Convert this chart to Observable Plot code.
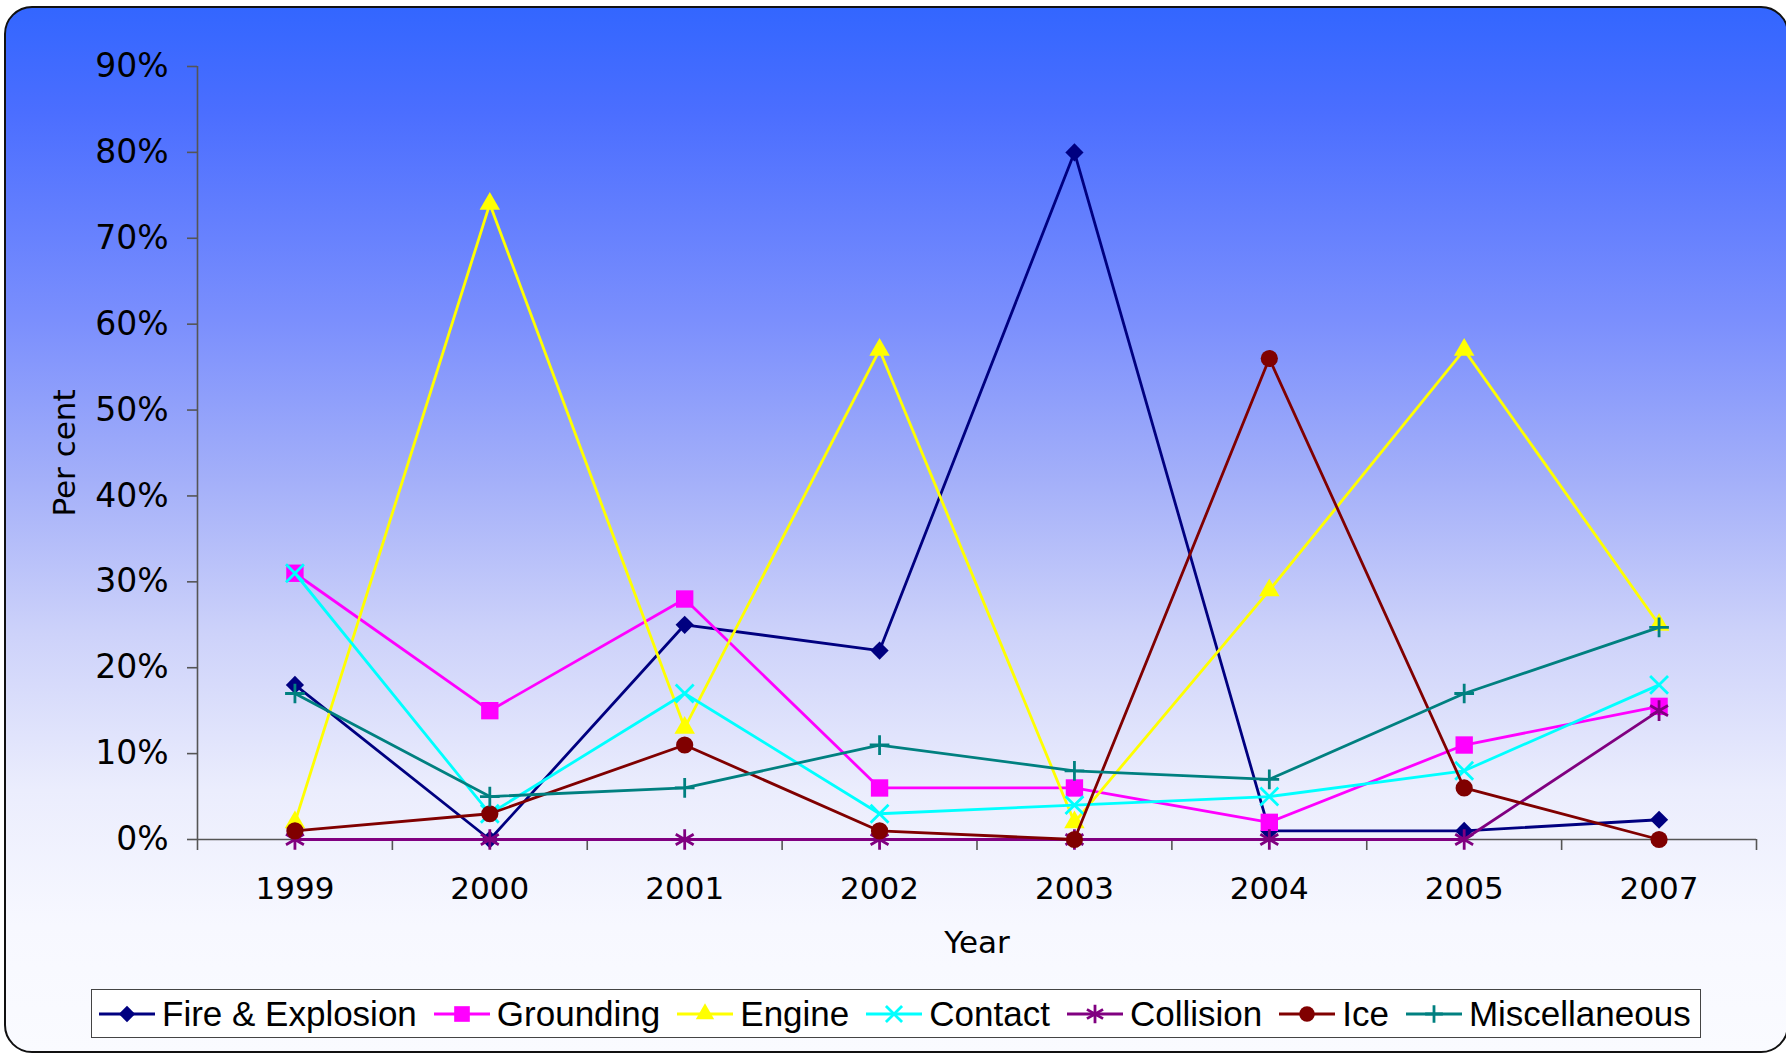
<!DOCTYPE html>
<html><head><meta charset="utf-8">
<script src="https://cdn.jsdelivr.net/npm/d3@7"></script>
<script src="https://cdn.jsdelivr.net/npm/@observablehq/plot@0.6"></script>
<style>
html,body{margin:0;padding:0;width:1786px;height:1056px;overflow:hidden;background:#fff;}
#panel{position:absolute;left:4px;top:6px;width:1785px;height:1047px;box-sizing:border-box;border:2px solid #111;border-radius:28px;
 background:linear-gradient(to bottom,#3366FF 0%,#4B6EFF 10%,#7B8FFD 30%,#A3AFF9 45%,#CDD2FA 60%,#EBEDFD 75%,#F7F8FF 88%,#FAFBFF 100%);}
#chart{position:absolute;left:0;top:0;}
#legend{position:absolute;left:91px;top:989px;width:1610px;height:49px;box-sizing:border-box;border:1.5px solid #444;background:#fff;
 display:flex;align-items:center;padding-left:7px;font-family:"Liberation Sans",Arial,sans-serif;font-size:35px;color:#000;white-space:nowrap;}
.item{display:flex;align-items:center;margin-right:17px;}
.item svg{margin-right:7px;}
</style></head><body>
<div id="panel"></div>
<div id="chart"></div>
<div id="legend"></div>
<script>
const years = ["1999","2000","2001","2002","2003","2004","2005","2007"];
const seriesNames = ["Fire & Explosion","Grounding","Engine","Contact","Collision","Ice","Miscellaneous"];
const fireExplosion = [18, 0, 25, 22, 80, 1, 1, 2.3];
const grounding     = [31, 15, 28, 6, 6, 2, 11, 15.5];
const engine        = [2, 74, 13, 57, 2, 29, 57, 25];
const contact       = [31, 3, 17, 3, 4, 5, 8, 18];
const collision     = [0, 0, 0, 0, 0, 0, 0, 15];
const ice           = [1, 3, 11, 1, 0, 56, 6, 0];
const miscellaneous = [17, 5, 6, 11, 8, 7, 17, 24.7];
const yTicks = [0,10,20,30,40,50,60,70,80,90];

const seriesValues = [fireExplosion, grounding, engine, contact, collision, ice, miscellaneous];
const colors = ["#000080","#FF00FF","#FFFF00","#00FFFF","#800080","#800000","#008080"];
const symbols = ["diamond2","square","triangle","times","asterisk","circle","plus"];
const filled = [true,true,true,false,false,true,false];
const radii = [8.2, 9.8, 7.6, 8.2, 9.8, 8.6, 6.4];

const marks = [];
marks.push(Plot.ruleY([0], {stroke:"#555", strokeWidth:1.6}));
marks.push(Plot.ruleX([-0.5], {y1:0, y2:90, stroke:"#555", strokeWidth:1.6}));
marks.push(Plot.axisY({ticks: yTicks, tickFormat: d => d + "%", tickSize: 10, tickPadding: 19, stroke:"#555", strokeWidth:1.6, fill:"#000", fontSize: 33, label:null}));
marks.push(Plot.axisX({ticks: d3.range(years.length + 1).map(i => i - 0.5), tickFormat: () => "", tickSize: 11, stroke:"#555", strokeWidth:1.6, label:null}));
marks.push(Plot.axisX({ticks: d3.range(years.length), tickFormat: i => years[i], tickSize: 0, tickPadding: 37, fill:"#000", label:null}));
marks.push(Plot.text(["Per cent"], {frameAnchor:"left", dx:-132, rotate:-90, textAnchor:"middle", lineAnchor:"middle", fill:"#000"}));
marks.push(Plot.text(["Year"], {frameAnchor:"bottom", dy:104, textAnchor:"middle", lineAnchor:"middle", fill:"#000"}));

seriesNames.forEach((name, s) => {
  const data = seriesValues[s].map((v, i) => ({i, v}));
  marks.push(Plot.line(data, {x:"i", y:"v", stroke: colors[s], strokeWidth: 2.8}));
  if (filled[s]) {
    marks.push(Plot.dot(data, {x:"i", y:"v", symbol: symbols[s], r: radii[s], fill: colors[s], stroke: "none"}));
  } else {
    marks.push(Plot.dot(data, {x:"i", y:"v", symbol: symbols[s], r: radii[s], fill: "none", stroke: colors[s], strokeWidth: 2.8}));
  }
});

const chart = Plot.plot({
  width: 1786, height: 970,
  marginLeft: 197, marginRight: 30, marginTop: 66, marginBottom: 131,
  x: {type:"linear", domain:[-0.5, years.length - 0.5], axis:null},
  y: {type:"linear", domain:[0, 90], axis:null},
  style: {background:"transparent", fontFamily:"'DejaVu Sans', Verdana, sans-serif", fontSize:"31px", color:"#000", overflow:"visible"},
  marks
});
document.getElementById("chart").appendChild(chart);

const symMap = {diamond2: d3.symbolDiamond2, square: d3.symbolSquare, triangle: d3.symbolTriangle, times: d3.symbolTimes, asterisk: d3.symbolAsterisk, circle: d3.symbolCircle, plus: d3.symbolPlus};
const legend = d3.select("#legend");
seriesNames.forEach((name, s) => {
  const item = legend.append("div").attr("class","item");
  const svg = item.append("svg").attr("width",56).attr("height",30);
  svg.append("line").attr("x1",0).attr("x2",56).attr("y1",15).attr("y2",15).attr("stroke",colors[s]).attr("stroke-width",2.8);
  const rr = radii[s] * 0.9;
  const p = svg.append("path").attr("transform","translate(28,15)")
    .attr("d", d3.symbol(symMap[symbols[s]], Math.PI * rr * rr)());
  if (filled[s]) p.attr("fill", colors[s]);
  else p.attr("fill","none").attr("stroke",colors[s]).attr("stroke-width",2.8);
  item.append("span").text(name);
});
</script>
</body></html>
